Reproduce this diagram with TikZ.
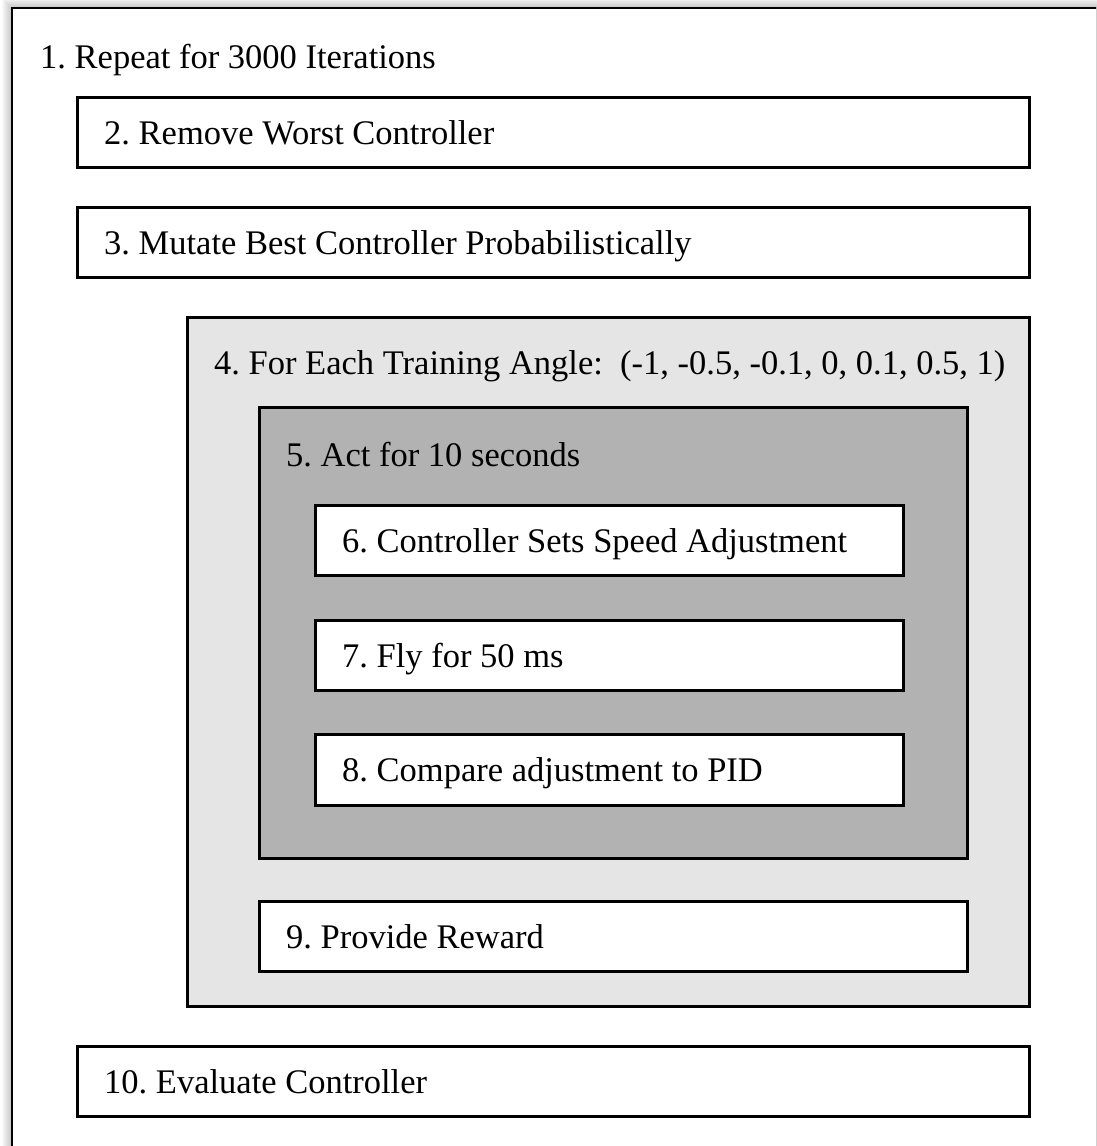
\documentclass[tikz,border=0pt]{standalone}
\usepackage{fontspec}
\setmainfont{Liberation Serif}
\frenchspacing
\begin{document}
\begin{tikzpicture}[x=1pt,y=-1pt,
  frame/.style={draw=black,line width=2.6pt},
  box/.style={frame,fill=white,anchor=north west,inner sep=0pt},
  lbl/.style={anchor=base west,inner sep=0pt,font=\fontsize{34.5}{38}\selectfont}]
\useasboundingbox (0,0) rectangle (1096,1146);
% soft shadow along the outer frame
\foreach \i in {1,...,10}
  \fill[black,opacity=0.025] (12-\i,8-\i) rectangle (1200,1250);
\begin{scope}
\clip (0,0) rectangle (1096,1146);
\draw[frame,fill=white] (12,8) rectangle (1200,1250);
\end{scope}
\node[lbl] (t1) at (40,68) {1. Repeat for 3000 Iterations};
% steps 2 and 3
\node[box,minimum width=952pt,minimum height=70pt] (b2) at (76,96) {};
\node[lbl] (t2) at (104,144) {2. Remove Worst Controller};
\node[box,minimum width=952pt,minimum height=70pt] (b3) at (76,206) {};
\node[lbl] (t3) at (104,254) {3. Mutate Best Controller Probabilistically};
% training-angle loop
\node[box,fill=black!10,minimum width=842pt,minimum height=689pt] (b4) at (186,316) {};
\node[lbl] (t4) at (214,374) {4. For Each Training Angle:\ \ (-1, -0.5, -0.1, 0, 0.1, 0.5, 1)};
% acting loop
\node[box,fill=black!30,minimum width=708pt,minimum height=451pt] (b5) at (258,406) {};
\node[lbl] (t5) at (286,466) {5. Act for 10 seconds};
\node[box,minimum width=588pt,minimum height=70pt] (b6) at (314,504) {};
\node[lbl] (t6) at (342,552) {6. Controller Sets Speed Adjustment};
\node[box,minimum width=588pt,minimum height=70pt] (b7) at (314,619) {};
\node[lbl] (t7) at (342,667) {7. Fly for 50 ms};
\node[box,minimum width=588pt,minimum height=71pt] (b8) at (314,733) {};
\node[lbl] (t8) at (342,781) {8. Compare adjustment to PID};
\node[box,minimum width=708pt,minimum height=70pt] (b9) at (258,900) {};
\node[lbl] (t9) at (286,948) {9. Provide Reward};
% final evaluation
\node[box,minimum width=952pt,minimum height=70pt] (b10) at (76,1045) {};
\node[lbl] (t10) at (104,1093) {10. Evaluate Controller};
\end{tikzpicture}
\end{document}
